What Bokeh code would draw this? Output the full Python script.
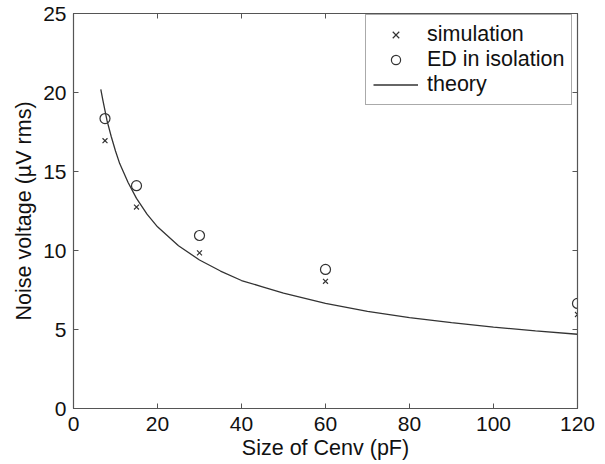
from bokeh.plotting import figure
from bokeh.models import LinearAxis, Legend, LegendItem, FixedTicker, Range1d
from bokeh.embed import file_html
from bokeh.resources import INLINE

# data
cenv = [7.5, 15, 30, 60, 120]
simulation = [16.95, 12.75, 9.85, 8.05, 5.95]
ed_isolation = [18.35, 14.1, 10.95, 8.8, 6.65]
theory_x = [6.5, 7, 8, 9, 10, 11, 12, 13, 15, 17.5, 20, 22.5, 25, 30, 35, 40, 45, 50,
            60, 70, 80, 90, 100, 110, 120]
theory_y = [20.2, 19.5, 18.2, 17.2, 16.3, 15.5, 14.9, 14.3, 13.3, 12.3, 11.5, 10.9, 10.3,
            9.4, 8.7, 8.1, 7.7, 7.3, 6.65, 6.15, 5.75, 5.43, 5.15, 4.91, 4.7]
x_ticks = [0, 20, 40, 60, 80, 100, 120]
y_ticks = [0, 5, 10, 15, 20, 25]

FONT = "Liberation Sans"
INK = "#333333"
AX = "#555555"
TXT = "#111111"

p = figure(frame_width=504, frame_height=395, output_backend="svg", toolbar_location=None,
           x_range=Range1d(0, 120), y_range=Range1d(0, 25),
           min_border_left=73, min_border_top=13, min_border_right=28, min_border_bottom=50,
           background_fill_color="white", border_fill_color="white")
p.grid.visible = False
p.outline_line_color = AX
p.outline_line_width = 1.2

for ax in (p.xaxis[0], p.yaxis[0]):
    ax.major_tick_in = 5
    ax.major_tick_out = 0
    ax.minor_tick_line_color = None
    ax.axis_line_color = AX
    ax.major_tick_line_color = AX
    ax.major_label_text_font = FONT
    ax.major_label_text_font_size = "21px"
    ax.major_label_text_color = TXT
    ax.axis_label_text_font = FONT
    ax.axis_label_text_font_size = "21.5px"
    ax.axis_label_text_font_style = "normal"
    ax.axis_label_text_color = TXT
p.xaxis[0].ticker = FixedTicker(ticks=x_ticks)
p.yaxis[0].ticker = FixedTicker(ticks=y_ticks)
p.xaxis[0].axis_label = "Size of Cenv (pF)"
p.yaxis[0].axis_label = "Noise voltage (\u00b5V rms)"
p.xaxis[0].major_label_standoff = 8
p.xaxis[0].axis_label_standoff = 2
p.yaxis[0].major_label_standoff = 7
p.yaxis[0].axis_label_standoff = 4

top = LinearAxis(ticker=FixedTicker(ticks=x_ticks), major_tick_in=5, major_tick_out=0,
                 minor_tick_line_color=None, major_label_text_font_size="0px",
                 axis_line_color=AX, major_tick_line_color=AX, major_label_standoff=0)
right = LinearAxis(ticker=FixedTicker(ticks=y_ticks), major_tick_in=5, major_tick_out=0,
                   minor_tick_line_color=None, major_label_text_font_size="0px",
                   axis_line_color=AX, major_tick_line_color=AX, major_label_standoff=0)
p.add_layout(top, "above")
p.add_layout(right, "right")

r_th = p.line(theory_x, theory_y, line_color=INK, line_width=1.3)
r_sim = p.scatter(cenv, simulation, marker="x", size=7, line_color=INK, line_width=1.2)
r_ed = p.scatter(cenv, ed_isolation, marker="circle", size=10, fill_color=None,
                 line_color=INK, line_width=1.2)

legend = Legend(items=[LegendItem(label="simulation", renderers=[r_sim]),
                       LegendItem(label="ED in isolation", renderers=[r_ed]),
                       LegendItem(label="theory", renderers=[r_th])],
                location=(292, 303), label_text_font=FONT, label_text_font_size="21.5px",
                label_text_color=TXT, glyph_width=45, glyph_height=23,
                label_height=23, spacing=0, padding=7, margin=0,
                border_line_color=AX, border_line_width=1.2, background_fill_alpha=1.0,
                label_standoff=9)
p.add_layout(legend, "center")

open("out.html", "w").write(file_html(p, INLINE))
